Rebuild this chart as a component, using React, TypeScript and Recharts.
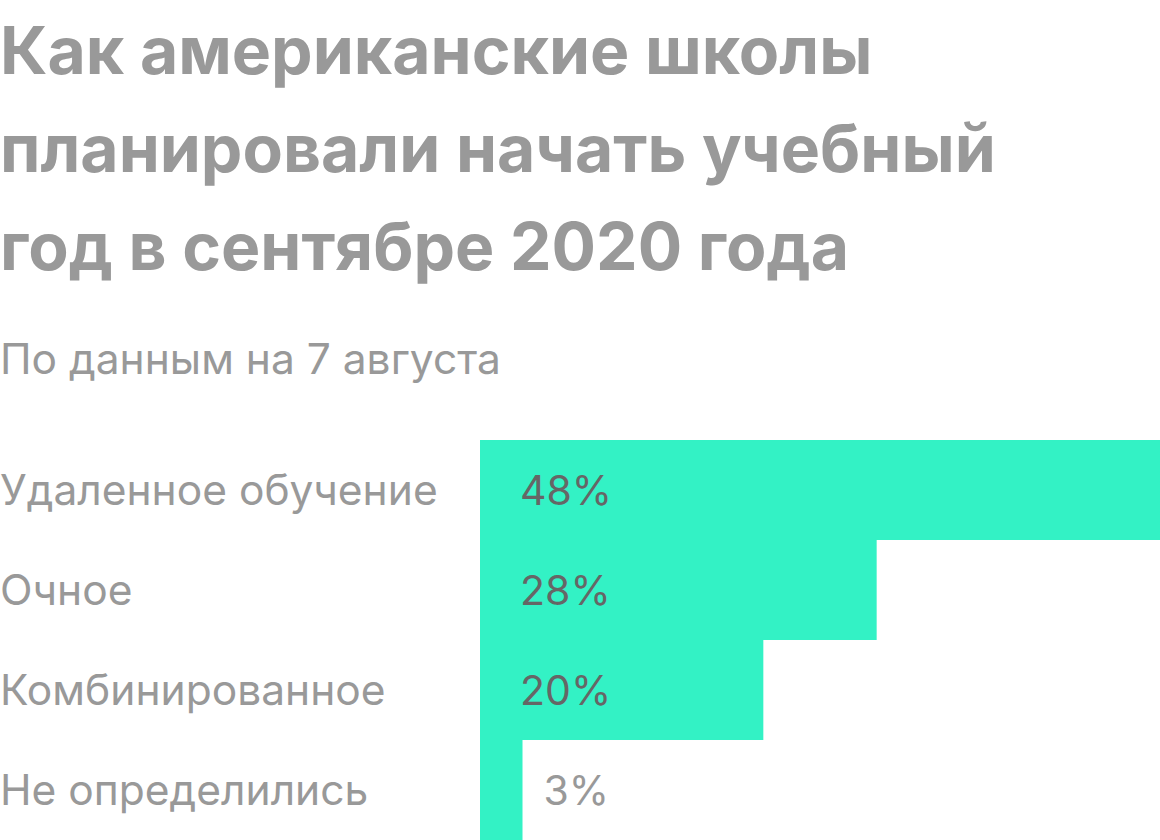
import { BarChart, Bar, XAxis, YAxis, LabelList } from "recharts";

const categories = ["Удаленное обучение", "Очное", "Комбинированное", "Не определились"];
const values = [48, 28, 20, 3];

const data = categories.map((name, i) => ({ name, value: values[i] }));

const GREY = "#999999";
const FONT = "Inter, Roboto, sans-serif";

function CategoryTick(props: any) {
  const { y, payload } = props;
  return (
    <text x={0} y={y} dy={15} textAnchor="start" fill={GREY} fontSize={42.5} fontFamily={FONT}>
      {payload.value}
    </text>
  );
}

function ValueLabel(props: any) {
  const { x, y, width, height, value } = props;
  const inside = width > 100;
  const tx = inside ? x + 40 : x + width + 21;
  return (
    <text x={tx} y={y + height / 2} dy={15} textAnchor="start" fill={inside ? "#666666" : GREY} fontSize={41} fontFamily={FONT}>
      {value}%
    </text>
  );
}

export default function App() {
  return (
    <div style={{ position: "absolute", left: 0, top: 0, width: 1160, height: 840, background: "#fff", overflow: "hidden" }}>
      <div style={{ position: "absolute", left: 0, top: 1, fontFamily: FONT, fontWeight: 700, fontSize: 66, lineHeight: "98px", color: GREY }}>
        Как американские школы<br />
        планировали начать учебный<br />
        год в сентябре 2020 года
      </div>
      <div style={{ position: "absolute", left: 0, top: 334, fontFamily: FONT, fontSize: 42.5, lineHeight: "50px", color: GREY }}>
        По данным на 7 августа
      </div>
      <div style={{ position: "absolute", left: 0, top: 440 }}>
        <BarChart width={1160} height={400} data={data} layout="vertical" margin={{ top: 0, right: 0, bottom: 0, left: 0 }} barCategoryGap={0}>
          <XAxis type="number" domain={[0, 48]} hide />
          <YAxis type="category" dataKey="name" width={480} axisLine={false} tickLine={false} tick={<CategoryTick />} />
          <Bar dataKey="value" fill="#33F2C5" isAnimationActive={false}>
            <LabelList dataKey="value" content={<ValueLabel />} />
          </Bar>
        </BarChart>
      </div>
    </div>
  );
}
